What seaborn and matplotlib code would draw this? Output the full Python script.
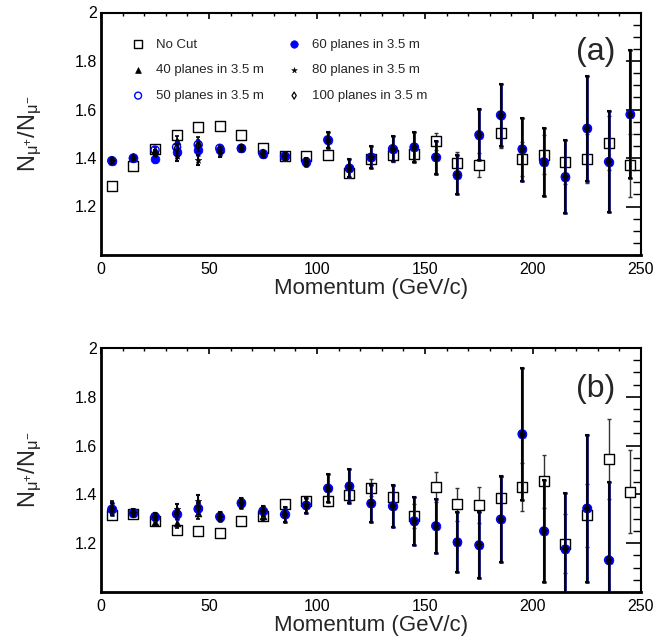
import numpy as np
import matplotlib
matplotlib.use("Agg")
import matplotlib.pyplot as plt
from matplotlib.ticker import MultipleLocator, FixedLocator
import seaborn as sns

# Momentum bin centres (GeV/c)
momentum = [5, 15, 25, 35, 45, 55, 65, 75, 85, 95, 105, 115, 125,
            135, 145, 155, 165, 175, 185, 195, 205, 215, 225, 235, 245]

nan = np.nan

# ---------------- panel (a) ----------------
nocut_a = [1.283, 1.368, 1.437, 1.496, 1.528, 1.532, 1.494, 1.440, 1.407, 1.410, 1.411, 1.339, 1.396,
           1.411, 1.418, 1.469, 1.379, 1.371, 1.502, 1.397, 1.414, 1.384, 1.397, 1.462, 1.371]
nocut_a_err = [0.008, 0.008, 0.010, 0.010, 0.010, 0.010, 0.010, 0.010, 0.012, 0.012, 0.015, 0.018, 0.022,
               0.028, 0.032, 0.035, 0.045, 0.050, 0.060, 0.070, 0.080, 0.090, 0.100, 0.110, 0.130]
p40_a = [1.389, 1.400, 1.433, 1.470, 1.466, 1.440, 1.440, 1.418, 1.407, 1.384, 1.475, 1.358, 1.403,
         1.438, 1.445, 1.403, 1.331, 1.496, 1.577, 1.437, 1.384, 1.323, 1.522, 1.385, 1.580]
p50_a = [1.389, 1.400, 1.433, 1.445, 1.455, 1.440, 1.440, 1.418, 1.407, 1.384, 1.475, 1.358, 1.403,
         1.438, 1.445, 1.403, 1.331, 1.496, 1.577, 1.437, 1.384, 1.323, 1.522, 1.385, 1.580]
p60_a = [1.389, 1.400, 1.396, 1.425, 1.434, 1.434, 1.440, 1.418, 1.407, 1.384, 1.475, 1.358, 1.403,
         1.438, 1.445, 1.403, 1.331, 1.496, 1.577, 1.437, 1.384, 1.323, 1.522, 1.385, 1.580]
p80_a = [1.389, 1.400, 1.420, 1.408, 1.393, 1.420, 1.440, 1.418, 1.407, 1.384, 1.475, 1.358, 1.403,
         1.438, 1.445, 1.403, 1.331, 1.496, 1.577, 1.437, 1.384, 1.323, 1.522, 1.385, 1.580]
p100_a = [1.389, 1.400, 1.420, 1.440, 1.450, 1.435, 1.440, 1.418, 1.407, 1.384, 1.475, 1.358, 1.403,
          1.438, 1.445, 1.403, 1.331, 1.496, 1.577, 1.437, 1.384, 1.323, 1.522, 1.385, 1.580]
planes_a_err = [0.010, 0.010, 0.012, 0.020, 0.020, 0.015, 0.012, 0.012, 0.015, 0.018, 0.034, 0.036, 0.045,
                0.051, 0.063, 0.068, 0.080, 0.105, 0.127, 0.130, 0.141, 0.150, 0.216, 0.208, 0.264]

# ---------------- panel (b) ----------------
nocut_b = [1.314, 1.320, 1.291, 1.254, 1.251, 1.240, 1.290, 1.311, 1.359, 1.373, 1.373, 1.396, 1.427,
           1.389, 1.311, 1.430, 1.360, 1.356, 1.386, 1.430, 1.453, 1.198, 1.314, 1.546, 1.410]
nocut_b_err = [0.010, 0.010, 0.010, 0.010, 0.010, 0.010, 0.012, 0.012, 0.015, 0.018, 0.020, 0.025, 0.035,
               0.045, 0.050, 0.061, 0.067, 0.075, 0.085, 0.100, 0.110, 0.120, 0.130, 0.164, 0.170]
p40_b = [1.346, 1.325, 1.288, 1.284, 1.325, 1.309, 1.366, 1.311, 1.318, 1.355, 1.425, 1.434, 1.363,
         1.352, 1.291, 1.271, 1.205, 1.193, 1.298, 1.648, 1.250, 1.176, 1.343, 1.131, nan]
p50_b = [1.339, 1.325, 1.309, 1.320, 1.340, 1.309, 1.366, 1.332, 1.318, 1.355, 1.425, 1.434, 1.363,
         1.352, 1.291, 1.271, 1.205, 1.193, 1.298, 1.648, 1.250, 1.176, 1.343, 1.131, nan]
p60_b = [1.339, 1.325, 1.309, 1.318, 1.343, 1.309, 1.366, 1.332, 1.318, 1.355, 1.425, 1.434, 1.363,
         1.352, 1.291, 1.271, 1.205, 1.193, 1.298, 1.648, 1.250, 1.176, 1.343, 1.131, nan]
p80_b = [1.340, 1.325, 1.310, 1.339, 1.373, 1.309, 1.366, 1.332, 1.318, 1.355, 1.425, 1.434, 1.363,
         1.352, 1.291, 1.271, 1.205, 1.193, 1.298, 1.648, 1.250, 1.176, 1.343, 1.131, nan]
p100_b = [1.340, 1.325, 1.309, 1.320, 1.345, 1.309, 1.366, 1.332, 1.318, 1.355, 1.425, 1.434, 1.363,
          1.352, 1.291, 1.271, 1.205, 1.193, 1.298, 1.648, 1.250, 1.176, 1.343, 1.131, nan]
planes_b_err = [0.025, 0.015, 0.015, 0.020, 0.025, 0.020, 0.020, 0.020, 0.030, 0.030, 0.058, 0.070, 0.076,
                0.085, 0.098, 0.112, 0.123, 0.134, 0.177, 0.270, 0.210, 0.230, 0.300, 0.320, nan]

labels = ["No Cut", "40 planes in 3.5 m", "50 planes in 3.5 m",
          "60 planes in 3.5 m", "80 planes in 3.5 m", "100 planes in 3.5 m"]

# marker / error-bar style per series ("face" = marker fill)
styles = {
    "No Cut":              dict(marker="s", s=44, color="black", face="white", lw=1.0, ecolor="#333333", elw=1.0),
    "40 planes in 3.5 m":  dict(marker="^", s=24, color="black", face="black", lw=0.5, ecolor="black", elw=1.2),
    "50 planes in 3.5 m":  dict(marker="o", s=34, color="blue", face="none", lw=1.0, ecolor="blue", elw=1.2),
    "60 planes in 3.5 m":  dict(marker="o", s=40, color="blue", face="blue", lw=0.5, ecolor="#1a1aa0", elw=2.0),
    "80 planes in 3.5 m":  dict(marker="*", s=26, color="black", face="black", lw=0.3, ecolor="#050520", elw=1.5),
    "100 planes in 3.5 m": dict(marker="d", s=18, color="black", face="none", lw=0.9, ecolor="black", elw=1.0),
}

sns.set_theme(style="white")
plt.rcParams["font.family"] = ["Liberation Sans", "DejaVu Sans"]
plt.rcParams["mathtext.default"] = "regular"

fig = plt.figure(figsize=(6.66, 6.39), dpi=100)
W, H = 666.0, 639.0
ax_a = fig.add_axes([101 / W, 1 - 255 / H, 540 / W, 242.5 / H])
ax_b = fig.add_axes([101 / W, 1 - 592 / H, 540 / W, 244 / H])


def draw_panel(ax, series):
    handles = []
    for i, (name, y, err) in enumerate(series):
        st = styles[name]
        ax.errorbar(momentum, y, yerr=err, fmt="none", ecolor=st["ecolor"],
                    elinewidth=st["elw"], capsize=1.6, capthick=st["elw"],
                    zorder=2 + 2 * i)
        sns.scatterplot(x=momentum, y=y, marker=st["marker"], s=st["s"],
                        color=st["color"], edgecolor=st["color"],
                        linewidth=st["lw"], ax=ax, zorder=3 + 2 * i, legend=False)
        coll = ax.collections[-1]
        coll.set_facecolor(st["face"])
        handles.append(coll)

    ax.set_xlim(0, 250)
    ax.set_ylim(1.0, 2.0)
    ax.xaxis.set_major_locator(FixedLocator([0, 50, 100, 150, 200, 250]))
    ax.xaxis.set_minor_locator(MultipleLocator(10))
    ax.yaxis.set_major_locator(FixedLocator([1.2, 1.4, 1.6, 1.8, 2.0]))
    ax.yaxis.set_minor_locator(MultipleLocator(0.05))
    ax.set_yticklabels(["1.2", "1.4", "1.6", "1.8", "2"])
    ax.set_xticklabels(["0", "50", "100", "150", "200", "250"])
    ax.tick_params(axis="both", which="both", direction="in", top=True, right=True,
                   colors="black")
    ax.tick_params(axis="y", which="major", length=11, width=1.2, pad=3, labelsize=11.5)
    ax.tick_params(axis="y", which="minor", length=5.5, width=1.0)
    ax.tick_params(axis="x", which="major", length=4.5, width=1.2, pad=5, labelsize=11.5)
    ax.tick_params(axis="x", which="minor", length=2.2, width=1.0)
    for side, sp in ax.spines.items():
        sp.set_color("black")
        sp.set_linewidth(2.0 if side in ("left", "bottom") else 1.5)
    ax.set_xlabel("Momentum (GeV/c)", fontsize=16)
    ax.set_ylabel(r"N$_{\mu^{+}}$/N$_{\mu^{-}}$", fontsize=17)
    ax.xaxis.set_label_coords(0.5, -0.095)
    ax.yaxis.set_label_coords(-0.106, 0.5)
    return handles


series_a = [("No Cut", nocut_a, nocut_a_err),
            ("40 planes in 3.5 m", p40_a, planes_a_err),
            ("50 planes in 3.5 m", p50_a, planes_a_err),
            ("60 planes in 3.5 m", p60_a, planes_a_err),
            ("80 planes in 3.5 m", p80_a, planes_a_err),
            ("100 planes in 3.5 m", p100_a, planes_a_err)]
series_b = [("No Cut", nocut_b, nocut_b_err),
            ("40 planes in 3.5 m", p40_b, planes_b_err),
            ("50 planes in 3.5 m", p50_b, planes_b_err),
            ("60 planes in 3.5 m", p60_b, planes_b_err),
            ("80 planes in 3.5 m", p80_b, planes_b_err),
            ("100 planes in 3.5 m", p100_b, planes_b_err)]

handles_a = draw_panel(ax_a, series_a)
draw_panel(ax_b, series_b)

ax_a.legend(handles_a, labels, ncol=2, loc="upper left",
            bbox_to_anchor=(0.0565, 0.893), frameon=False, fontsize=9.5,
            handlelength=1.0, handletextpad=0.85, columnspacing=1.8,
            labelspacing=1.02, borderpad=0, borderaxespad=0,
            scatterpoints=1, markerscale=0.85)

ax_a.text(0.9167, 0.837, "(a)", transform=ax_a.transAxes, fontsize=23,
          ha="center", va="center")
ax_b.text(0.9167, 0.832, "(b)", transform=ax_b.transAxes, fontsize=23,
          ha="center", va="center")

fig.savefig("out.png", dpi=100)
